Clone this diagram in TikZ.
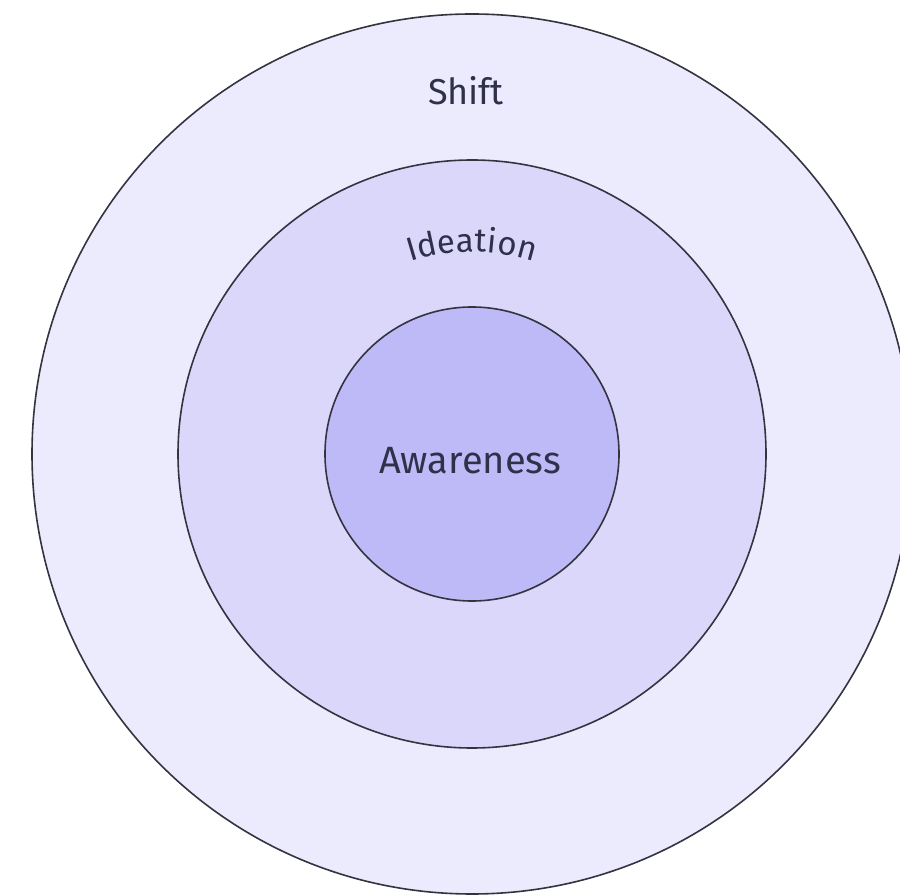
\documentclass[tikz,border=0pt]{standalone}
\usepackage{fontspec}
\setmainfont{Fira Sans}
\usetikzlibrary{decorations.text}

\definecolor{ringout}{HTML}{ECEAFD}
\definecolor{ringmid}{HTML}{DAD7FB}
\definecolor{ringin}{HTML}{BEBAF8}
\definecolor{inkline}{HTML}{34343F}
\definecolor{inktext}{HTML}{30304A}

\tikzset{ring/.style={circle, draw=inkline, line width=1.6pt, inner sep=0pt}}

\begin{document}
\begin{tikzpicture}[x=1pt, y=1pt, font=\fontsize{36}{42}\selectfont, text=inktext]
  % page frame; the outer ring runs past the right edge
  \useasboundingbox (0,0) rectangle (900,895);
  \clip (0,0) rectangle (900,895);
  \coordinate (ctr) at (472,441);

  % three rings, radii 3:2:1
  \node[ring, fill=ringout, minimum size=880pt] (shiftring) at (ctr) {};
  \node[ring, fill=ringmid, minimum size=588pt] (idearing) at (ctr) {};
  \node[ring, fill=ringin, minimum size=294pt] (awarering) at (ctr) {};

  % labels
  \node (shiftlbl) at (466,804) {Shift};
  \node (awarelbl) at (470,434) {\fontsize{38}{44}\selectfont Awareness};
  % the middle label follows the arc
  \path[decorate, decoration={text along path, text align=center,
      text={|\fontsize{33}{38}\selectfont\color{inktext}|Ideation}}]
    ([shift={(126:202)}]ctr) arc[start angle=126, end angle=54, radius=202];
\end{tikzpicture}
\end{document}
